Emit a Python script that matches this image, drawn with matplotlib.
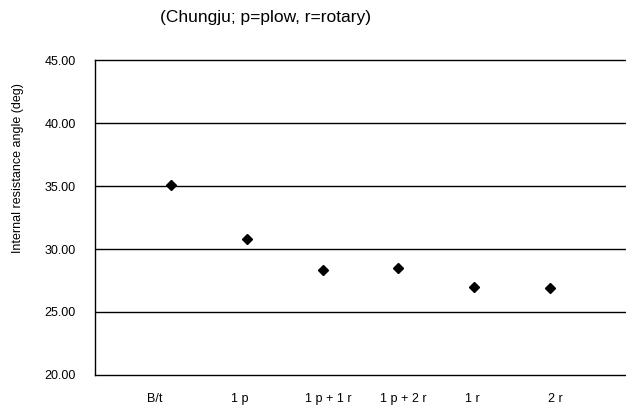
import matplotlib
matplotlib.use("Agg")
import matplotlib.pyplot as plt

plt.rcParams['font.family'] = ['Liberation Sans', 'DejaVu Sans']

# data
treatments = ['B/t', '1 p', '1 p + 1 r', '1 p + 2 r', '1 r', '2 r']
angle = [35.1, 30.8, 28.3, 28.5, 27.0, 26.9]
yticks = [20, 25, 30, 35, 40, 45]
# where the category labels sit (not exactly under the points in the original)
label_pos = [0.78, 1.91, 3.08, 4.06, 4.97, 6.07]

fig = plt.figure(figsize=(6.26, 4.18), dpi=100)
ax = fig.add_axes([0.152, 0.103, 0.848, 0.753])

xpos = list(range(1, len(treatments) + 1))
ax.plot(xpos, angle, linestyle='none', marker='D', color='black', markersize=5.5)

ax.set_xlim(0, 7)
ax.set_ylim(20, 45)
ax.set_yticks(yticks)
ax.set_yticklabels(['%.2f' % v for v in yticks], fontsize=9)
ax.set_xticks(label_pos)
ax.set_xticklabels(treatments, fontsize=9)

ax.tick_params(axis='both', length=0)
ax.tick_params(axis='x', pad=13)
ax.tick_params(axis='y', pad=14)

for v in yticks[1:-1]:
    ax.axhline(v, color='black', linewidth=1.0, zorder=0)

ax.spines['right'].set_visible(False)
for s in ['left', 'top', 'bottom']:
    ax.spines[s].set_linewidth(1.0)

ax.set_ylabel('Internal resistance angle (deg)', fontsize=9)
ax.yaxis.set_label_coords(-0.134, 0.657)

fig.text(0.424, 0.957, '(Chungju; p=plow, r=rotary)', fontsize=12.5, ha='center', va='center')

fig.savefig('out.png', dpi=100)
